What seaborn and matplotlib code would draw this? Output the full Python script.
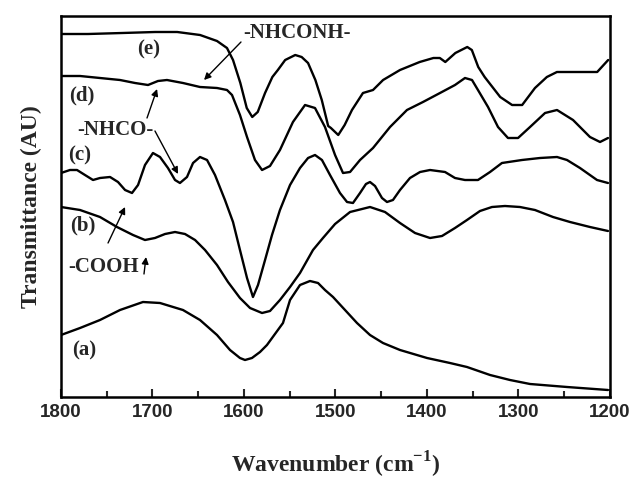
import numpy as np
import pandas as pd
import matplotlib
matplotlib.use("Agg")
import matplotlib.pyplot as plt
import seaborn as sns
from matplotlib.ticker import MultipleLocator

# ---- data (wavenumber in cm^-1, transmittance in arbitrary units) ----
wn_e = [1800, 1770.5, 1733, 1697, 1673, 1648, 1629.5, 1618.6, 1612, 1604, 1597, 1591, 1585, 1577,
        1569, 1563, 1555, 1544, 1537, 1530, 1522, 1515, 1508, 1505, 1497, 1490, 1482, 1470, 1459,
        1448, 1429.5, 1408, 1393, 1386, 1380, 1369, 1356, 1351, 1344, 1337, 1320, 1307, 1296, 1282,
        1269, 1258, 1214, 1208, 1202]
t_e = [363, 363, 364, 365, 365, 362, 356, 349, 337, 314, 289, 280, 285, 304,
       320, 327, 337, 342, 340, 334, 317, 297, 271, 269, 262, 272, 287, 304, 307,
       317, 327, 335, 339, 339, 335, 344, 350, 347, 330, 320, 300, 292, 292, 309,
       320, 325, 325, 331, 337]

wn_d = [1800, 1779.2, 1757.4, 1735.5, 1719.1, 1704.9, 1694, 1684.2, 1666.7, 1648.1, 1629.5, 1618.6,
        1613.1, 1604.4, 1596.7, 1588, 1580.3, 1571.6, 1560.7, 1546.5, 1533.3, 1522.4, 1511.5, 1500.5,
        1491.8, 1484.1, 1473.2, 1459, 1440.4, 1421.9, 1404.4, 1385.8, 1369.4, 1358.5, 1350.8, 1344.3,
        1333.3, 1322.4, 1311.5, 1300.5, 1287.4, 1271, 1257.9, 1240.4, 1221.9, 1210.9, 1202.2]
t_d = [321, 321, 319, 317, 314, 312, 316, 317, 314, 310, 309, 307,
       302, 282, 260, 237, 227, 231, 247, 275, 292, 289, 270, 242,
       224, 225, 237, 249, 270, 287, 295, 304, 312, 319, 317, 307,
       290, 270, 259, 259, 270, 284, 287, 277, 260, 255, 259]

wn_c = [1800, 1790.2, 1782.5, 1773.8, 1765, 1757.4, 1746.4, 1737.7, 1730, 1722.4, 1715.8, 1708.2,
        1699.5, 1691.8, 1683.1, 1675.4, 1670, 1662.3, 1655.7, 1648.1, 1640.4, 1631.7, 1620.8, 1612,
        1604.4, 1596.7, 1590.2, 1584.7, 1577, 1569.4, 1560.7, 1549.7, 1538.8, 1530, 1522.4, 1514.8,
        1506, 1495.1, 1487.4, 1480.9, 1473.2, 1466.7, 1462.3, 1456.8, 1449.2, 1443.7, 1437.2, 1429.5,
        1418.6, 1407.6, 1396.7, 1380.3, 1369.4, 1358.5, 1344.3, 1331.1, 1318.1, 1296.2, 1276.5,
        1257.9, 1247, 1232.8, 1214.2, 1202.2]
t_c = [224, 227, 227, 222, 217, 219, 220, 215, 207, 204, 212, 232,
       244, 240, 229, 217, 214, 220, 234, 240, 237, 222, 197, 175,
       147, 119, 100, 112, 137, 162, 187, 212, 229, 239, 242, 237,
       222, 204, 195, 194, 204, 213, 215, 211, 199, 195, 197, 207,
       219, 225, 227, 225, 219, 217, 217, 225, 234, 237, 239,
       240, 237, 229, 217, 214]

wn_b = [1800, 1779.2, 1757.4, 1738.8, 1721.3, 1708.2, 1697.3, 1686.3, 1675.4, 1664.5, 1653.5, 1642.6,
        1629.5, 1617.5, 1604.4, 1593.4, 1580.3, 1571.6, 1560.7, 1549.7, 1538.8, 1524.6, 1513.7, 1500.5,
        1484.1, 1462.3, 1445.9, 1429.5, 1413.1, 1396.7, 1383.6, 1369.4, 1356.3, 1342.1, 1329, 1314.8,
        1298.4, 1282, 1262.3, 1243.7, 1221.9, 1202.2]
t_b = [190, 187, 180, 170, 162, 157, 159, 163, 165, 163, 157, 147,
       132, 115, 99, 89, 84, 86, 97, 110, 124, 147, 159, 173,
       185, 190, 185, 174, 164, 159, 161, 169, 177, 186, 190, 191,
       190, 187, 180, 175, 170, 166]

wn_a = [1800, 1779.2, 1757.4, 1735.5, 1710.4, 1691.8, 1666.7, 1648.1, 1629.5, 1615.3, 1604.4, 1598.9,
        1591.3, 1582.5, 1574.9, 1557.4, 1549.7, 1538.8, 1527.9, 1519.1, 1511.5, 1502.7, 1489.6, 1476.5,
        1462.3, 1448.1, 1429.5, 1400, 1374.9, 1356.3, 1331.1, 1309.3, 1287.4, 1247, 1202.2]
t_a = [62, 69, 77, 87, 95, 94, 87, 77, 62, 47, 39, 37,
       39, 45, 52, 74, 97, 112, 116, 114, 107, 100, 87, 74,
       62, 54, 47, 39, 34, 30, 22, 17, 13, 10, 7]

curves = {"(a)": (wn_a, t_a), "(b)": (wn_b, t_b), "(c)": (wn_c, t_c),
          "(d)": (wn_d, t_d), "(e)": (wn_e, t_e)}

frames = []
for name, (w, t) in curves.items():
    frames.append(pd.DataFrame({"wavenumber": w, "T": t, "curve": name}))
df = pd.concat(frames, ignore_index=True)

# ---- style ----
sns.set_theme(style="white")
plt.rcParams["font.family"] = ["Liberation Serif", "DejaVu Serif"]
plt.rcParams["mathtext.fontset"] = "custom"
plt.rcParams["mathtext.bf"] = "Liberation Serif:bold"
plt.rcParams["mathtext.rm"] = "Liberation Serif:bold"

fig = plt.figure(figsize=(6.34, 4.83), dpi=100)
ax = fig.add_axes([61 / 634, 1 - 397 / 483, (610 - 61) / 634, (397 - 16) / 483])

sns.lineplot(data=df, x="wavenumber", y="T", units="curve", estimator=None, sort=False,
             color="black", linewidth=1.7, ax=ax, legend=False)
for ln in ax.lines:
    ln.set_solid_joinstyle("round")

ax.set_xlim(1800, 1200)
ax.set_ylim(0, 381)
ax.xaxis.set_major_locator(MultipleLocator(100))
ax.xaxis.set_minor_locator(MultipleLocator(50))
ax.set_yticks([])
ax.tick_params(axis="x", which="major", direction="in", length=6, width=1.5, pad=5,
               bottom=True, top=False)
ax.tick_params(axis="x", which="minor", direction="in", length=4, width=1.5, bottom=True, top=False)
for lab in ax.get_xticklabels():
    lab.set_fontfamily("Liberation Sans")
    lab.set_fontweight("bold")
    lab.set_fontsize(13.5)
for s in ax.spines.values():
    s.set_linewidth(1.8)
    s.set_color("black")

ax.set_xlabel(r"Wavenumber (cm$^{\mathbf{-1}}$)", fontsize=17, fontweight="bold", labelpad=21)
ax.set_ylabel("Transmittance (AU)", fontsize=17, fontweight="bold", labelpad=14)

# ---- annotations ----
tk = dict(fontsize=15, fontweight="bold", ha="center", va="center")
ax.text(1704, 348, "(e)", **tk)
ax.text(1777, 302, "(d)", **tk)
ax.text(1741, 267, "-NHCO-", **tk)
ax.text(1780, 242, "(c)", **tk)
ax.text(1776, 172, "(b)", **tk)
ax.text(1754, 130, "-COOH", **tk)
ax.text(1775, 47, "(a)", **tk)
ax.text(1542, 364, "-NHCONH-", **tk)

ap = dict(arrowstyle="-|>", color="black", lw=1.0, mutation_scale=10, shrinkA=0, shrinkB=0)
ax.annotate("", xy=(1643.7, 317), xytext=(1603.3, 355), arrowprops=ap)
ax.annotate("", xy=(1695, 308), xytext=(1706, 279), arrowprops=ap)
ax.annotate("", xy=(1672.1, 223), xytext=(1697.3, 266), arrowprops=ap)
ax.annotate("", xy=(1730, 190), xytext=(1748.6, 154), arrowprops=ap)
ax.annotate("", xy=(1707.1, 140), xytext=(1709.3, 123), arrowprops=ap)

fig.savefig("out.png", dpi=100)
